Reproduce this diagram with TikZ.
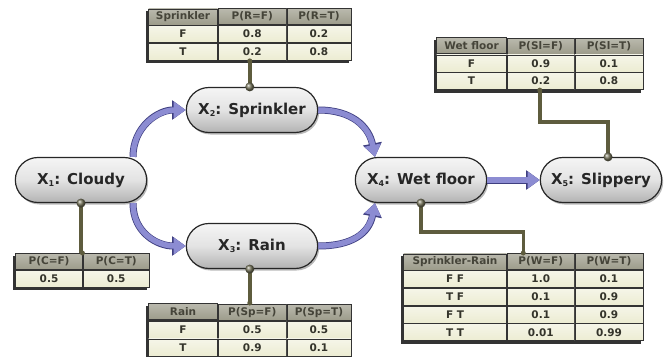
\documentclass[tikz,border=0pt]{standalone}
\usepackage{fontspec}
\setmainfont{DejaVu Sans}
\usetikzlibrary{shapes.misc,matrix,calc,backgrounds,arrows.meta,shadows}
\definecolor{hdr}{HTML}{9C9B8A}
\definecolor{hdrtxt}{HTML}{454439}
\definecolor{cream}{HTML}{ECECD2}
\definecolor{celltxt}{HTML}{34342B}
\definecolor{olivec}{HTML}{5E5C3E}
\definecolor{arrowc}{HTML}{8C8CD2}
\definecolor{arrowd}{HTML}{3E3E80}
\newcommand\subidx[1]{\raisebox{-2.5pt}{\fontsize{8}{8}\selectfont #1}}
\tikzset{
  pill/.style={rounded rectangle, minimum width=138, minimum height=45,
    draw=black!85, line width=1.2pt, top color=gray!8, bottom color=gray!60,
    middle color=gray!22, text=black!85,
    font=\fontsize{15}{18}\selectfont\bfseries,
    drop shadow={shadow xshift=1.5pt, shadow yshift=-2pt, opacity=0.55}},
  cell/.style={draw=black!80, line width=0.7pt, top color=cream!50!white,
    bottom color=cream, text=celltxt, minimum height=17, inner sep=0pt,
    outer sep=0pt, font=\fontsize{10.5}{12}\selectfont\bfseries},
  hcell/.style={top color=hdr!70!white, bottom color=hdr,
    text=hdrtxt, minimum height=16, font=\fontsize{10.5}{12}\selectfont\bfseries},
  cpt/.style={matrix of nodes, anchor=north west, inner sep=0pt,
    column sep=0pt, row sep=0pt, nodes={cell},
    row 1/.style={nodes={hcell}}},
  conn/.style={draw=olivec, line width=3.5pt},
  flow/.style={draw=arrowc, line width=5.5pt,
    -{Triangle[length=12pt,width=16pt]},
    preaction={draw=arrowd, line width=7pt,
      -{Triangle[length=13.5pt,width=18.5pt]}}},
  tshadow/.style={fill=black!80}
}
\begin{document}
\begin{tikzpicture}[x=1pt,y=-1pt]
\useasboundingbox (0,0) rectangle (668,356);
% nodes
\node[pill] (C) at (81,180) {X\subidx{1}: Cloudy};
\node[pill] (S) at (252,110) {X\subidx{2}: Sprinkler};
\node[pill] (R) at (252,246) {X\subidx{3}: Rain};
\node[pill] (W) at (421,180) {X\subidx{4}: Wet floor};
\node[pill, minimum width=128] (Sl) at (601,180) {X\subidx{5}: Slippery};
% tables
\matrix (tS) [cpt, column 1/.style={nodes={minimum width=69}},
  column 2/.style={nodes={minimum width=68}},
  column 3/.style={nodes={minimum width=64}}] at (148,8) {
  Sprinkler & P(R=F) & P(R=T) \\
  F & 0.8 & 0.2 \\
  T & 0.2 & 0.8 \\
};
\matrix (tC) [cpt, column 1/.style={nodes={minimum width=67}},
  column 2/.style={nodes={minimum width=66}}] at (15,253) {
  P(C=F) & P(C=T) \\
  0.5 & 0.5 \\
};
\matrix (tR) [cpt, column 1/.style={nodes={minimum width=69}},
  column 2/.style={nodes={minimum width=68}},
  column 3/.style={nodes={minimum width=64}}] at (148,303) {
  Rain & P(Sp=F) & P(Sp=T) \\
  F & 0.5 & 0.5 \\
  T & 0.9 & 0.1 \\
};
\matrix (tL) [cpt, column 1/.style={nodes={minimum width=70}},
  column 2/.style={nodes={minimum width=67}},
  column 3/.style={nodes={minimum width=68}}] at (436,37) {
  Wet floor & P(Sl=F) & P(Sl=T) \\
  F & 0.9 & 0.1 \\
  T & 0.2 & 0.8 \\
};
\matrix (tW) [cpt, column 1/.style={nodes={minimum width=103}},
  column 2/.style={nodes={minimum width=67}},
  column 3/.style={nodes={minimum width=68}}] at (403,253) {
  Sprinkler-Rain & P(W=F) & P(W=T) \\
  F F & 1.0 & 0.1 \\
  T F & 0.1 & 0.9 \\
  F T & 0.1 & 0.9 \\
  T T & 0.01 & 0.99 \\
};
% shadows and connectors
\begin{scope}[on background layer]
  \foreach \t in {tS,tC,tR,tL,tW}{
    \fill[tshadow] ($(\t.north west)+(-2.5,2.5)$) rectangle ($(\t.south east)+(-2.5,2.5)$);
  }
  \draw[conn] (tS.south) -- (tS.south |- S.north);
  \draw[conn] (C.south) -- (C.south |- tC.north);
  \draw[conn] (tR.north) -- (tR.north |- R.south);
  \draw[conn] (tL.south) -- ++(0,32) -| ([xshift=7pt]Sl.north);
  \draw[conn] (W.south) -- ++(0,29) -| (tW.north);
\end{scope}
% balls
\foreach \p in {(tS.south |- S.north), (C.south), (tR.north |- R.south),
  ([xshift=7pt]Sl.north), (W.south)}{
  \shade[ball color=olivec!85!white] \p circle (4.5pt);
}
\foreach \p in {(tS.south), (tC.north), (tR.north), (tL.south), (tW.north)}{
  \fill[olivec] \p circle (2.5pt);
}
% arrows
\coordinate (a1s) at ([xshift=52pt]C.north);
\coordinate (a2s) at ([xshift=52pt]C.south);
\coordinate (a3e) at ([xshift=-46pt]W.north);
\coordinate (a4e) at ([xshift=-46pt]W.south);
\draw[flow] (a1s) .. controls ($(a1s)+(0,-30)$) and ($(S.west)+(-28,0)$) .. (S.west);
\draw[flow] (a2s) .. controls ($(a2s)+(0,30)$) and ($(R.west)+(-28,0)$) .. (R.west);
\draw[flow] (S.east) .. controls ($(S.east)+(34,0)$) and ($(a3e)+(-6,-30)$) .. (a3e);
\draw[flow] (R.east) .. controls ($(R.east)+(34,0)$) and ($(a4e)+(-6,30)$) .. (a4e);
\draw[flow] (W.east) -- (Sl.west);
\end{tikzpicture}
\end{document}
